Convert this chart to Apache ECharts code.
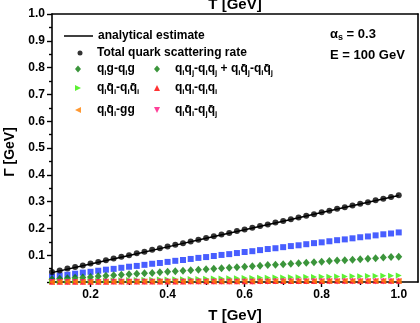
<!DOCTYPE html>
<html>
<head>
<meta charset="utf-8">
<script src="https://cdn.jsdelivr.net/npm/echarts@6/dist/echarts.min.js"></script>
<style>
  html, body { margin: 0; padding: 0; background: #fff; }
  #chart { width: 420px; height: 323px; }
</style>
</head>
<body>
<div id="chart"></div>
<script>
// Temperature grid (GeV)
const T = [0.10, 0.12, 0.14, 0.16, 0.18, 0.20, 0.22, 0.24, 0.26, 0.28,
           0.30, 0.32, 0.34, 0.36, 0.38, 0.40, 0.42, 0.44, 0.46, 0.48,
           0.50, 0.52, 0.54, 0.56, 0.58, 0.60, 0.62, 0.64, 0.66, 0.68,
           0.70, 0.72, 0.74, 0.76, 0.78, 0.80, 0.82, 0.84, 0.86, 0.88,
           0.90, 0.92, 0.94, 0.96, 0.98, 1.00];

// Analytical estimate, sampled every 0.1 GeV
const T_analytic = [0.1, 0.2, 0.3, 0.4, 0.5, 0.6, 0.7, 0.8, 0.9, 1.0];
const gammaAnalytic = [0.035, 0.067, 0.099, 0.131, 0.163, 0.195, 0.227, 0.259, 0.291, 0.323];

// Scattering rates Γ (GeV)
const gammaTotal = [0.037, 0.043, 0.050, 0.056, 0.062, 0.069, 0.075, 0.081, 0.088, 0.094,
                    0.100, 0.107, 0.113, 0.120, 0.126, 0.132, 0.139, 0.145, 0.151, 0.158,
                    0.164, 0.171, 0.177, 0.183, 0.190, 0.196, 0.202, 0.209, 0.215, 0.222,
                    0.228, 0.234, 0.241, 0.247, 0.253, 0.260, 0.266, 0.273, 0.279, 0.285,
                    0.292, 0.298, 0.305, 0.311, 0.317, 0.324];
const gammaQG = [0.020, 0.024, 0.027, 0.031, 0.035, 0.038, 0.042, 0.046, 0.049, 0.053,
                 0.057, 0.060, 0.064, 0.068, 0.071, 0.075, 0.079, 0.082, 0.086, 0.090,
                 0.093, 0.097, 0.101, 0.104, 0.108, 0.112, 0.115, 0.119, 0.123, 0.126,
                 0.130, 0.134, 0.137, 0.141, 0.145, 0.148, 0.152, 0.156, 0.159, 0.163,
                 0.167, 0.170, 0.174, 0.178, 0.181, 0.185];
const gammaQQprime = [0.010, 0.012, 0.014, 0.016, 0.017, 0.019, 0.021, 0.023, 0.025, 0.027,
                      0.029, 0.031, 0.033, 0.034, 0.036, 0.038, 0.040, 0.042, 0.044, 0.046,
                      0.048, 0.049, 0.051, 0.053, 0.055, 0.057, 0.059, 0.061, 0.063, 0.064,
                      0.066, 0.068, 0.070, 0.072, 0.074, 0.076, 0.078, 0.080, 0.081, 0.083,
                      0.085, 0.087, 0.089, 0.091, 0.093, 0.094];
const gammaQQbarElastic = [0.0025, 0.0030, 0.0035, 0.0040, 0.0044, 0.0049, 0.0054, 0.0059, 0.0064, 0.0068,
                           0.0073, 0.0078, 0.0083, 0.0088, 0.0092, 0.0097, 0.0102, 0.0107, 0.0112, 0.0116,
                           0.0121, 0.0126, 0.0131, 0.0136, 0.0140, 0.0145, 0.0150, 0.0155, 0.0160, 0.0164,
                           0.0169, 0.0174, 0.0179, 0.0184, 0.0188, 0.0193, 0.0198, 0.0203, 0.0208, 0.0212,
                           0.0217, 0.0222, 0.0227, 0.0232, 0.0236, 0.0241];
const gammaQQsame = [0.0006, 0.0007, 0.0008, 0.0009, 0.0010, 0.0011, 0.0012, 0.0013, 0.0014, 0.0015,
                     0.0016, 0.0017, 0.0018, 0.0019, 0.0020, 0.0021, 0.0022, 0.0023, 0.0024, 0.0025,
                     0.0026, 0.0027, 0.0028, 0.0029, 0.0030, 0.0031, 0.0032, 0.0033, 0.0034, 0.0035,
                     0.0036, 0.0037, 0.0038, 0.0039, 0.0040, 0.0041, 0.0042, 0.0043, 0.0044, 0.0045,
                     0.0046, 0.0047, 0.0048, 0.0049, 0.0050, 0.0051];
const gammaQQbarGG = [0.0004, 0.0005, 0.0006, 0.0006, 0.0007, 0.0008, 0.0009, 0.0010, 0.0010, 0.0011,
                      0.0012, 0.0013, 0.0014, 0.0014, 0.0015, 0.0016, 0.0017, 0.0018, 0.0018, 0.0019,
                      0.0020, 0.0021, 0.0022, 0.0022, 0.0023, 0.0024, 0.0025, 0.0026, 0.0026, 0.0027,
                      0.0028, 0.0029, 0.0030, 0.0030, 0.0031, 0.0032, 0.0033, 0.0034, 0.0034, 0.0035,
                      0.0036, 0.0037, 0.0038, 0.0038, 0.0039, 0.0040];
const gammaQQbarFlavour = [0.0002, 0.0002, 0.0003, 0.0003, 0.0004, 0.0004, 0.0004, 0.0005, 0.0005, 0.0006,
                           0.0006, 0.0006, 0.0007, 0.0007, 0.0008, 0.0008, 0.0008, 0.0009, 0.0009, 0.0010,
                           0.0010, 0.0010, 0.0011, 0.0011, 0.0012, 0.0012, 0.0012, 0.0013, 0.0013, 0.0014,
                           0.0014, 0.0014, 0.0015, 0.0015, 0.0016, 0.0016, 0.0016, 0.0017, 0.0017, 0.0018,
                           0.0018, 0.0018, 0.0019, 0.0019, 0.0020, 0.0020];

// Axis tick positions
const xLabelTicks = [0.2, 0.4, 0.6, 0.8, 1.0];
const xMinorTicks = [0.3, 0.5, 0.7, 0.9];
const yLabelTicks = [0.1, 0.2, 0.3, 0.4, 0.5, 0.6, 0.7, 0.8, 0.9, 1.0];
const yMajorTicks = [0.0, 0.1, 0.2, 0.3, 0.4, 0.5, 0.6, 0.7, 0.8, 0.9, 1.0];
const yMinorTicks = [0.05, 0.15, 0.25, 0.35, 0.45, 0.55, 0.65, 0.75, 0.85, 0.95];

const FONT = '"Liberation Sans", Arial, sans-serif';
const pairs = (xs, ys) => xs.map((x, i) => [x, ys[i]]);

// Triangle outlines pointing right / left / down (legend icons)
const TRI_RIGHT = 'path://M0,0L10,5L0,10Z';
const TRI_LEFT = 'path://M10,0L0,5L10,10Z';
const TRI_DOWN = 'path://M0,0L10,0L5,10Z';

// Legend labels in rich-text form (m = main text, s = subscript)
const labels = {
  'analytical estimate': '{m|analytical estimate}',
  'Total quark scattering rate': '{m|Total quark scattering rate}',
  'qig-qig': '{m|q}{s|i}{m|g-q}{s|i}{m|g}',
  'qiqj-qiqj + qiq̄j-qiq̄j': '{m|q}{s|i}{m|q}{s|j}{m|-q}{s|i}{m|q}{s|j}{m| + q}{s|i}{m|q\u0304}{s|j}{m|-q}{s|i}{m|q\u0304}{s|j}',
  'qiq̄i-qiq̄i': '{m|q}{s|i}{m|q\u0304}{s|i}{m|-q}{s|i}{m|q\u0304}{s|i}',
  'qiqi-qiqi': '{m|q}{s|i}{m|q}{s|i}{m|-q}{s|i}{m|q}{s|i}',
  'qiq̄i-gg': '{m|q}{s|i}{m|q\u0304}{s|i}{m|-gg}',
  'qiq̄i-qjq̄j': '{m|q}{s|i}{m|q\u0304}{s|i}{m|-q}{s|j}{m|q\u0304}{s|j}'
};
const rich = {
  m: { fontFamily: FONT, fontSize: 12, fontWeight: 'bold', color: '#000', lineHeight: 15, verticalAlign: 'middle' },
  s: { fontFamily: FONT, fontSize: 8, fontWeight: 'bold', color: '#000', lineHeight: 9, verticalAlign: 'bottom' }
};

// One legend entry: icon centred at iconX, text starting at textX, row top at top
function legendAt(name, iconX, textX, top, icon, color, size) {
  const item = { name: name, icon: icon, itemStyle: { color: color } };
  const w = size[0], h = size[1];
  const left = iconX - w / 2;
  return {
    data: [item],
    left: left, top: top,
    orient: 'vertical',
    itemWidth: w, itemHeight: h,
    itemGap: 0,
    padding: 0,
    selectedMode: false,
    formatter: n => labels[n],
    textStyle: { rich: rich, padding: [0, 0, 0, Math.max(0, textX - left - w - 5)] }
  };
}

const chart = echarts.init(document.getElementById('chart'), null, { renderer: 'canvas' });

const axisLineStyle = { color: '#000', width: 1.6 };
const tickLabelStyle = { color: '#000', fontFamily: FONT, fontSize: 12, fontWeight: 'bold' };
const titleStyle = { fontFamily: FONT, fontSize: 15, fontWeight: 'bold' };

const C_DKGREEN = '#0a7a0a', C_LTGREEN = '#33ee00', C_ORANGE = '#ff8000',
      C_RED = '#ff0000', C_PINK = '#ff1080', C_BLUE = '#1a36ff';

chart.setOption({
  animation: false,
  backgroundColor: '#fff',
  grid: { left: 52, right: 2, top: 14, bottom: 41, containLabel: false, outerBoundsMode: 'none' },
  legend: [
    legendAt('analytical estimate', 78.5, 97, 30, 'rect', '#000', [29, 1.5]),
    legendAt('Total quark scattering rate', 80, 97, 47, 'circle', '#000', [5, 5]),
    legendAt('qig-qig', 78, 97, 63, 'diamond', C_DKGREEN, [6, 7]),
    legendAt('qiqj-qiqj + qiq̄j-qiq̄j', 157, 175, 63, 'diamond', C_DKGREEN, [6, 7]),
    legendAt('qiq̄i-qiq̄i', 78, 97, 82, TRI_RIGHT, C_LTGREEN, [6, 6]),
    legendAt('qiqi-qiqi', 157, 175, 82, 'triangle', C_RED, [6, 6]),
    legendAt('qiq̄i-gg', 78, 97, 104, TRI_LEFT, C_ORANGE, [6, 6]),
    legendAt('qiq̄i-qjq̄j', 157, 175, 104, TRI_DOWN, C_PINK, [6, 6])
  ],
  xAxis: [
    {
      type: 'value', min: 0.1, max: 1.05, position: 'bottom',
      name: 'T [GeV]', nameLocation: 'middle', nameGap: 26,
      nameTextStyle: { color: '#000', ...titleStyle },
      axisLine: { show: true, onZero: false, lineStyle: axisLineStyle },
      axisTick: { show: true, inside: false, length: 5, customValues: xLabelTicks, lineStyle: { color: '#000', width: 1.4 } },
      axisLabel: { show: true, customValues: xLabelTicks, margin: 7, formatter: v => v.toFixed(1), ...tickLabelStyle },
      splitLine: { show: false }
    },
    {
      type: 'value', min: 0.1, max: 1.05, position: 'bottom',
      axisLine: { show: false, onZero: false },
      axisTick: { show: true, inside: false, length: 3, customValues: xMinorTicks, lineStyle: { color: '#000', width: 1.4 } },
      axisLabel: { show: false },
      splitLine: { show: false }
    },
    {
      type: 'value', min: 0.1, max: 1.05, position: 'top',
      axisLine: { show: true, onZero: false, lineStyle: axisLineStyle },
      axisTick: { show: false }, axisLabel: { show: false }, splitLine: { show: false }
    }
  ],
  yAxis: [
    {
      type: 'value', min: 0, max: 1.0, position: 'left',
      name: 'Γ [GeV]', nameLocation: 'middle', nameGap: 27, nameRotate: 90,
      nameTextStyle: { color: '#000', fontFamily: FONT, fontSize: 14, fontWeight: 'bold', padding: [0, 0, 0, -8] },
      axisLine: { show: true, onZero: false, lineStyle: axisLineStyle },
      axisTick: { show: true, inside: false, length: 5, customValues: yMajorTicks, lineStyle: { color: '#000', width: 1.4 } },
      axisLabel: { show: true, customValues: yLabelTicks, margin: 7, formatter: v => v.toFixed(1), ...tickLabelStyle },
      splitLine: { show: false }
    },
    {
      type: 'value', min: 0, max: 1.0, position: 'left',
      axisLine: { show: false, onZero: false },
      axisTick: { show: true, inside: false, length: 3, customValues: yMinorTicks, lineStyle: { color: '#000', width: 1.4 } },
      axisLabel: { show: false }, splitLine: { show: false }
    },
    {
      type: 'value', min: 0, max: 1.0, position: 'right',
      axisLine: { show: true, onZero: false, lineStyle: axisLineStyle },
      axisTick: { show: false }, axisLabel: { show: false }, splitLine: { show: false }
    }
  ],
  graphic: [
    {
      // top axis title, partly cut by the canvas edge
      type: 'text', x: 235, y: 5,
      style: { text: 'T [GeV]', ...titleStyle, fill: '#000', align: 'center', verticalAlign: 'middle' }
    },
    {
      type: 'text', left: 330, top: 28,
      style: { text: '{m|α}{s|s}{m| = 0.3}', rich: {
        m: { fontFamily: FONT, fontSize: 13, fontWeight: 'bold', fill: '#000', lineHeight: 16, verticalAlign: 'middle' },
        s: { fontFamily: FONT, fontSize: 9, fontWeight: 'bold', fill: '#000', lineHeight: 10, verticalAlign: 'bottom' }
      } }
    },
    {
      type: 'text', left: 330, top: 49,
      style: { text: 'E = 100 GeV', fontFamily: FONT, fontSize: 13, fontWeight: 'bold', fill: '#000' }
    }
  ],
  series: [
    {
      name: 'qig-qig', type: 'scatter', symbol: 'rect', symbolSize: 6,
      itemStyle: { color: C_BLUE }, data: pairs(T, gammaQG), z: 2
    },
    {
      name: 'qiqj-qiqj + qiq̄j-qiq̄j', type: 'scatter', symbol: 'diamond', symbolSize: [7, 8],
      itemStyle: { color: C_DKGREEN }, data: pairs(T, gammaQQprime), z: 3
    },
    {
      name: 'qiq̄i-qiq̄i', type: 'scatter', symbol: 'triangle', symbolSize: 6, symbolRotate: -90,
      itemStyle: { color: C_LTGREEN }, data: pairs(T, gammaQQbarElastic), z: 3
    },
    {
      name: 'qiqi-qiqi', type: 'scatter', symbol: 'triangle', symbolSize: 6,
      itemStyle: { color: C_RED }, data: pairs(T, gammaQQsame), z: 3
    },
    {
      name: 'qiq̄i-qjq̄j', type: 'scatter', symbol: 'triangle', symbolSize: 6, symbolRotate: 180,
      itemStyle: { color: C_PINK }, data: pairs(T, gammaQQbarFlavour), z: 3
    },
    {
      name: 'qiq̄i-gg', type: 'scatter', symbol: 'triangle', symbolSize: 6, symbolRotate: 90,
      itemStyle: { color: C_ORANGE }, data: pairs(T, gammaQQbarGG), z: 4
    },
    {
      name: 'analytical estimate', type: 'line', symbol: 'none', showSymbol: false,
      lineStyle: { color: '#000', width: 1.5 }, itemStyle: { color: '#000' },
      data: pairs(T_analytic, gammaAnalytic), z: 5
    },
    {
      name: 'Total quark scattering rate', type: 'scatter', symbol: 'circle', symbolSize: 6,
      itemStyle: { color: '#000' }, data: pairs(T, gammaTotal), z: 6
    }
  ]
});
</script>
</body>
</html>
